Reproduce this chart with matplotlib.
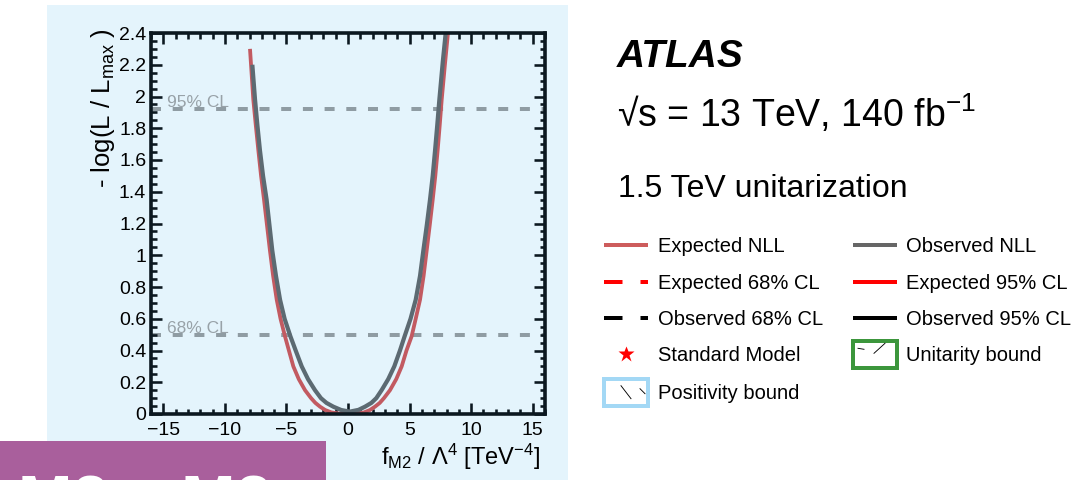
import matplotlib
matplotlib.use("Agg")
import matplotlib.pyplot as plt
from matplotlib.patches import Rectangle
from matplotlib.ticker import MultipleLocator, FixedLocator, FuncFormatter

plt.rcParams['font.family'] = ['Liberation Sans', 'DejaVu Sans']
plt.rcParams['mathtext.fontset'] = 'custom'
plt.rcParams['mathtext.rm'] = 'Liberation Sans'
plt.rcParams['mathtext.it'] = 'Liberation Sans:italic'
plt.rcParams['mathtext.bf'] = 'Liberation Sans:bold'

# Profile scan of -log(L/Lmax) versus f_M2 / Lambda^4 (1.5 TeV unitarization)
f_obs = [-7.77, -7.55, -7.36, -7.15, -6.90, -6.61, -6.38, -6.15, -5.85, -5.52,
         -5.15, -4.68, -4.25, -3.76, -3.25, -2.68, -2.20, -1.75, -1.19, -0.55,
         0.15, 0.85, 1.38, 1.90, 2.30, 2.73, 3.27, 3.76, 4.22, 4.60,
         5.08, 5.50, 5.85, 6.12, 6.40, 6.66, 6.88, 7.07, 7.25, 7.42,
         7.70, 7.96]
nll_obs = [2.20, 1.98, 1.82, 1.66, 1.50, 1.35, 1.19, 1.03, 0.87, 0.72,
           0.60, 0.49, 0.40, 0.30, 0.22, 0.15, 0.10, 0.07, 0.046, 0.025,
           0.015, 0.026, 0.046, 0.07, 0.10, 0.15, 0.22, 0.30, 0.40, 0.49,
           0.60, 0.72, 0.87, 1.03, 1.19, 1.35, 1.50, 1.66, 1.82, 1.98,
           2.22, 2.42]

f_exp = [-7.96, -7.69, -7.49, -7.28, -7.06, -6.82, -6.58, -6.34, -6.08, -5.79,
         -5.48, -5.12, -4.80, -4.44, -4.00, -3.49, -3.00, -2.65, -2.27, -1.85,
         -1.35, -0.75, 0.00, 0.75, 1.30, 1.78, 2.19, 2.58, 2.92, 3.41,
         3.92, 4.36, 4.75, 5.17, 5.50, 5.85, 6.14, 6.39, 6.64, 6.88,
         7.09, 7.28, 7.45, 7.61, 7.87, 8.12]
nll_exp = [2.30, 1.98, 1.82, 1.66, 1.50, 1.35, 1.19, 1.03, 0.87, 0.72,
           0.60, 0.49, 0.40, 0.30, 0.22, 0.15, 0.10, 0.07, 0.046, 0.025,
           0.010, 0.003, 0.0, 0.003, 0.010, 0.025, 0.046, 0.07, 0.10, 0.15,
           0.22, 0.30, 0.40, 0.49, 0.60, 0.72, 0.87, 1.03, 1.19, 1.35,
           1.50, 1.66, 1.82, 1.98, 2.20, 2.40]

cl_levels = [0.5, 1.92]
cl_labels = ['68% CL', '95% CL']

x_range = (-16, 16)
y_range = (0, 2.4)
x_major = [-15, -10, -5, 0, 5, 10, 15]
y_major = [0, 0.2, 0.4, 0.6, 0.8, 1.0, 1.2, 1.4, 1.6, 1.8, 2.0, 2.2, 2.4]

legend_col1 = ['Expected NLL', 'Expected 68% CL', 'Observed 68% CL',
               'Standard Model', 'Positivity bound']
legend_col2 = ['Observed NLL', 'Expected 95% CL', 'Observed 95% CL',
               'Unitarity bound']

W, H = 1077, 480
PX = 0.72  # points per pixel at 100 dpi

c_exp = '#c25a61'
c_obs = '#5c6a72'
c_cl = '#8f9ca3'
c_axis = '#0b1820'

fig = plt.figure(figsize=(W / 100, H / 100), dpi=100, facecolor='white')

# page-level drawing layer in pixel units
bg = fig.add_axes([0, 0, 1, 1], zorder=0)
bg.set_xlim(0, W)
bg.set_ylim(H, 0)
bg.axis('off')
bg.add_patch(Rectangle((47, 5), 521, 480, facecolor='#e4f4fc', edgecolor='none'))
bg.add_patch(Rectangle((0, 441), 326, 45, facecolor='#a95f9c', edgecolor='none'))
bg.text(18, 521, 'M2 – M2', color='white', fontsize=47, fontweight='bold',
        ha='left', va='baseline')

# main plot
ax = fig.add_axes([151 / W, 1 - 414 / H, 394 / W, 381 / H], zorder=1)
ax.patch.set_alpha(0)
ax.set_xlim(*x_range)
ax.set_ylim(*y_range)

ax.plot(f_exp, nll_exp, color=c_exp, lw=3.8 * PX, solid_capstyle='butt',
        solid_joinstyle='round', zorder=2)
ax.plot(f_obs, nll_obs, color=c_obs, lw=4.2 * PX, solid_capstyle='butt',
        solid_joinstyle='round', zorder=2.1)

lw_cl = 4 * PX
for level, lab in zip(cl_levels, cl_labels):
    ax.axhline(level, color=c_cl, lw=lw_cl, dashes=(10 * PX / lw_cl, 11.7 * PX / lw_cl),
               zorder=1.5)
    ax.text(-14.7, level + 0.012, lab, color='#98a2a8', fontsize=12.5,
            ha='left', va='baseline')

ax.xaxis.set_major_locator(FixedLocator(x_major))
ax.xaxis.set_minor_locator(MultipleLocator(1))
ax.yaxis.set_major_locator(FixedLocator(y_major))
ax.yaxis.set_minor_locator(MultipleLocator(0.05))
fmt = FuncFormatter(lambda v, p: ('%g' % round(v, 3)).replace('-', '\u2212'))
ax.xaxis.set_major_formatter(fmt)
ax.yaxis.set_major_formatter(fmt)

ax.tick_params(which='both', direction='in', top=True, right=True,
               color=c_axis, labelcolor='black')
ax.tick_params(which='major', length=11 * PX, width=2.6 * PX, labelsize=14)
ax.tick_params(which='minor', length=5.5 * PX, width=2.6 * PX)
ax.tick_params(axis='x', which='major', pad=5.5)
ax.tick_params(axis='y', which='major', pad=3.5)
for s in ax.spines.values():
    s.set_linewidth(3.6 * PX)
    s.set_color(c_axis)

ax.set_ylabel('- log(L / L$_{\\mathrm{max}}$ )', fontsize=18.5, loc='top')
ax.yaxis.set_label_coords(-0.086, 1.013)
ax.set_xlabel('f$_{\\mathrm{M2}}$ / \u039b$^{4}$ [TeV$^{-4}$]', fontsize=17, loc='right')
ax.xaxis.set_label_coords(0.988, -0.072)

# experiment labels
bg.text(617, 67, 'ATLAS', fontsize=28, fontweight='bold', fontstyle='italic',
        ha='left', va='baseline')
bg.text(617, 127, '\u221as = 13 TeV, 140 fb$^{-1}$', fontsize=27,
        ha='left', va='baseline')
bg.text(618, 197, '1.5 TeV unitarization', fontsize=23, ha='left', va='baseline')

# legend
rows = [245, 281.7, 318.3, 354.3, 391.7]
hx = [(604, 648), (853, 897)]
tx = [658, 906]
lw_leg = 4 * PX


def key_line(x0, x1, y, color, dashed=False):
    kw = {}
    if dashed:
        kw['dashes'] = (18.5 * PX / lw_leg, 18 * PX / lw_leg)
    bg.plot([x0, x1], [y, y], color=color, lw=lw_leg, solid_capstyle='butt',
            dash_capstyle='butt', **kw)


def key_box(x0, x1, y, edge, segs):
    bg.add_patch(Rectangle((x0, y - 13), x1 - x0, 27, facecolor='white',
                           edgecolor=edge, lw=4 * PX))
    for (a, b, c, d) in segs:
        bg.plot([a, c], [b, d], color='black', lw=0.9 * PX)


styles1 = [
    lambda y: key_line(*hx[0], y, '#cd5c5c'),
    lambda y: key_line(*hx[0], y, '#ff0000', dashed=True),
    lambda y: key_line(*hx[0], y, 'black', dashed=True),
    lambda y: bg.plot([626], [y], marker='*', color='#ff0000', ms=12, mec='none'),
    lambda y: key_box(*hx[0], y, '#a3d8f5',
                      [(621, y - 6, 631, y + 7), (640, y - 3, 645, y + 2)]),
]
styles2 = [
    lambda y: key_line(*hx[1], y, '#666666'),
    lambda y: key_line(*hx[1], y, '#ff0000'),
    lambda y: key_line(*hx[1], y, 'black'),
    lambda y: key_box(*hx[1], y, '#3c963c',
                      [(858, y - 6, 864, y - 11 + 6), (874, y - 1, 885, y - 11)]),
]

for lab, draw, y in zip(legend_col1, styles1, rows):
    draw(y)
    bg.text(tx[0], y + 7, lab, fontsize=14.5, ha='left', va='baseline')
for lab, draw, y in zip(legend_col2, styles2, rows):
    draw(y)
    bg.text(tx[1], y + 7, lab, fontsize=14.5, ha='left', va='baseline')

fig.savefig('out.png', dpi=100, facecolor='white')
